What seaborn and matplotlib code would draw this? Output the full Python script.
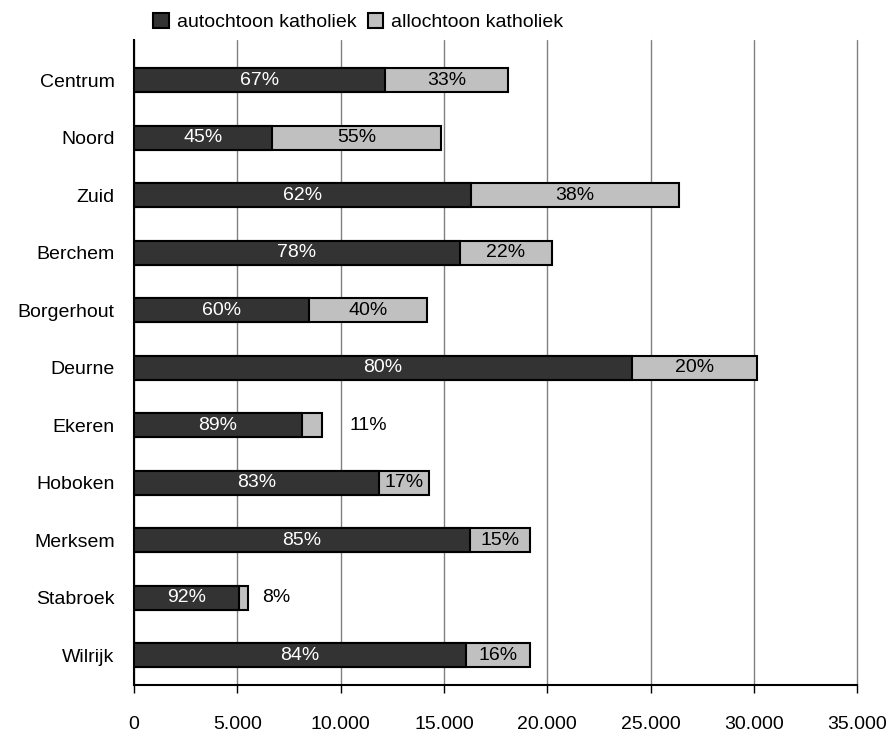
import pandas as pd
import seaborn as sns
import matplotlib.pyplot as plt
from matplotlib.patches import Patch
from matplotlib.ticker import FuncFormatter

wijken = ['Centrum', 'Noord', 'Zuid', 'Berchem', 'Borgerhout', 'Deurne',
          'Ekeren', 'Hoboken', 'Merksem', 'Stabroek', 'Wilrijk']
autochtoon = [12150, 6690, 16300, 15780, 8450, 24080, 8110, 11860, 16280, 5100, 16050]
allochtoon = [5950, 8170, 10080, 4450, 5730, 6070, 990, 2420, 2890, 420, 3120]
pct_auto = ['67%', '45%', '62%', '78%', '60%', '80%', '89%', '83%', '85%', '92%', '84%']
pct_allo = ['33%', '55%', '38%', '22%', '40%', '20%', '11%', '17%', '15%', '8%', '16%']

df = pd.DataFrame({'wijk': wijken, 'auto': autochtoon, 'allo': allochtoon})
df['totaal'] = df['auto'] + df['allo']

sns.set_style('white')
plt.rcParams['font.family'] = ['Liberation Sans', 'DejaVu Sans']
plt.rcParams['text.color'] = 'black'
plt.rcParams['xtick.color'] = 'black'
plt.rcParams['ytick.color'] = 'black'

fs = 14

fig = plt.figure(figsize=(8.93, 7.31), dpi=100)
ax = fig.add_axes([0.150, 0.063, 0.810, 0.882])

donker = '#333333'
licht = '#c0c0c0'

sns.barplot(data=df, x='totaal', y='wijk', orient='h', color=licht, saturation=1,
            edgecolor='black', linewidth=1.5, width=0.42, ax=ax, zorder=3)
sns.barplot(data=df, x='auto', y='wijk', orient='h', color=donker, saturation=1,
            edgecolor='black', linewidth=1.5, width=0.42, ax=ax, zorder=4)

# smalle segmenten: label naast de balk (afstand zoals in het origineel)
buiten = {'Ekeren': 1350, 'Stabroek': 700}

for i, row in df.iterrows():
    ax.text(row['auto'] / 2, i, pct_auto[i], color='white', ha='center', va='center',
            fontsize=fs, zorder=5)
    if row['wijk'] in buiten:
        ax.text(row['totaal'] + buiten[row['wijk']], i, pct_allo[i], color='black',
                ha='left', va='center', fontsize=fs, zorder=5)
    else:
        ax.text(row['auto'] + row['allo'] / 2, i, pct_allo[i], color='black',
                ha='center', va='center', fontsize=fs, zorder=5)

ax.set_xlim(0, 35000)
ax.set_ylim(10.52, -0.7)
ax.set_xticks(range(0, 35001, 5000))
ax.xaxis.set_major_formatter(FuncFormatter(lambda v, p: f'{int(v):,}'.replace(',', '.')))
ax.grid(axis='x', color='#808080', linewidth=1, zorder=0)
ax.set_axisbelow(True)
for gl in ax.get_xgridlines():
    gl.set_clip_on(False)
for s in ['top', 'right']:
    ax.spines[s].set_visible(False)
for s in ['left', 'bottom']:
    ax.spines[s].set_color('black')
    ax.spines[s].set_linewidth(1.5)
ax.tick_params(axis='x', bottom=True, length=6, width=1, color='black', direction='out',
               labelsize=fs, pad=16)
ax.tick_params(axis='y', left=False, length=0, labelsize=fs, pad=14)
ax.set_xlabel('')
ax.set_ylabel('')

handles = [Patch(facecolor=donker, edgecolor='black', linewidth=1.5, label='autochtoon katholiek'),
           Patch(facecolor=licht, edgecolor='black', linewidth=1.5, label='allochtoon katholiek')]
fig.legend(handles=handles, loc='upper left', bbox_to_anchor=(0.152, 1.006), ncol=2,
           frameon=False, fontsize=fs, handlelength=0.8, handleheight=0.8,
           handletextpad=0.4, columnspacing=0.6)

plt.savefig('out.png', dpi=100)
